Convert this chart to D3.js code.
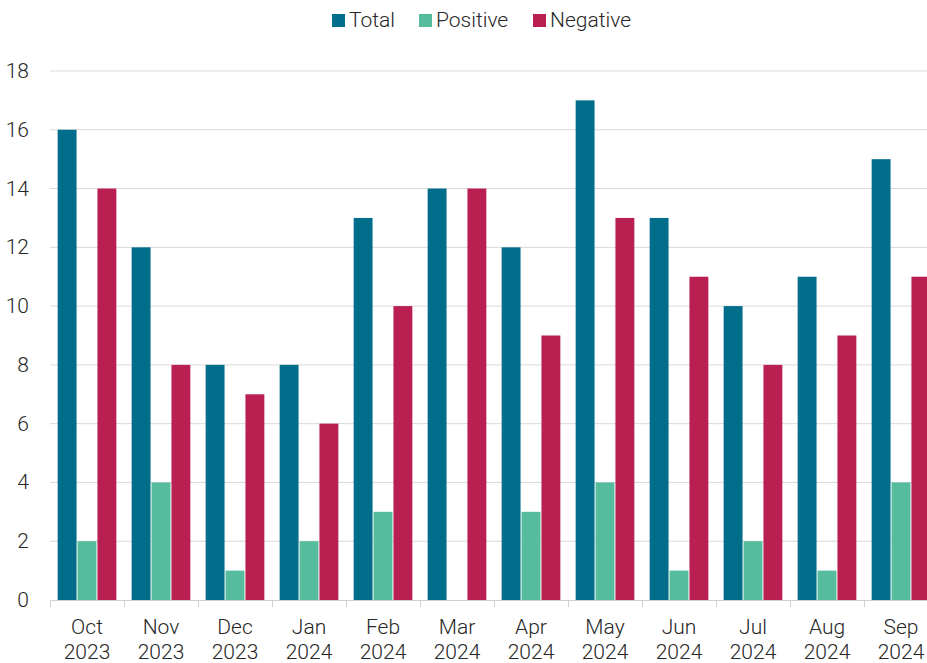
<!DOCTYPE html>
<html>
<head>
<meta charset="utf-8">
<script src="https://cdn.jsdelivr.net/npm/d3@7"></script>
<style>
  body { margin: 0; background: #fff; }
  svg { display: block; font-family: Roboto, "Noto Sans", sans-serif; font-weight: 300; }
</style>
</head>
<body>
<svg id="chart" width="927" height="663"></svg>
<script>
const months = ['Oct', 'Nov', 'Dec', 'Jan', 'Feb', 'Mar', 'Apr', 'May', 'Jun', 'Jul', 'Aug', 'Sep'];
const years = ['2023', '2023', '2023', '2024', '2024', '2024', '2024', '2024', '2024', '2024', '2024', '2024'];
const seriesNames = ['Total', 'Positive', 'Negative'];
const total = [16, 12, 8, 8, 13, 14, 12, 17, 13, 10, 11, 15];
const positive = [2, 4, 1, 2, 3, 0, 3, 4, 1, 2, 1, 4];
const negative = [14, 8, 7, 6, 10, 14, 9, 13, 11, 8, 9, 11];
const yTicks = [0, 2, 4, 6, 8, 10, 12, 14, 16, 18];

const colors = ['#006e8a', '#55bc9e', '#b91f51'];
const values = [total, positive, negative];

const svg = d3.select('#chart');

const x = d3.scaleBand().domain(d3.range(months.length)).range([50, 938]).paddingInner(0).paddingOuter(0);
const xs = d3.scaleBand().domain(seriesNames).range([0, x.bandwidth()]).paddingOuter(0.36).paddingInner(0);
const y = d3.scaleLinear().domain([0, 18]).range([600, 71]);

// gridlines
svg.append('g').selectAll('line').data(yTicks.filter(d => d > 0)).enter().append('line')
    .attr('x1', 50).attr('x2', 938)
    .attr('y1', d => y(d)).attr('y2', d => y(d))
    .attr('stroke', '#d9d9d9').attr('stroke-width', 1);

// y labels
svg.append('g').selectAll('text').data(yTicks).enter().append('text')
    .attr('x', 29).attr('y', d => y(d) + 7)
    .attr('text-anchor', 'end')
    .attr('font-size', 21).attr('fill', '#262626')
    .text(d => d);

// bars
const groups = svg.append('g').selectAll('g').data(months).enter().append('g')
    .attr('transform', (d, i) => `translate(${x(i)},0)`);
groups.selectAll('rect').data((d, i) => seriesNames.map((s, k) => ({ s, k, v: values[k][i] })))
    .enter().append('rect')
    .attr('x', d => xs(d.s) + 0.5)
    .attr('width', xs.bandwidth() - 1)
    .attr('y', d => y(d.v))
    .attr('height', d => y(0) - y(d.v))
    .attr('fill', d => colors[d.k]);

// x axis
const axis = svg.append('g');
axis.append('line').attr('x1', 50).attr('x2', 938).attr('y1', 600.5).attr('y2', 600.5)
    .attr('stroke', '#d0d0d0');
axis.selectAll('.tick').data(d3.range(months.length + 1)).enter().append('line')
    .attr('x1', i => x.step() * i + 50.5).attr('x2', i => x.step() * i + 50.5)
    .attr('y1', 600).attr('y2', 607)
    .attr('stroke', '#d0d0d0');
const labels = axis.selectAll('.lbl').data(months).enter().append('text')
    .attr('text-anchor', 'middle')
    .attr('font-size', 21).attr('fill', '#262626');
labels.append('tspan').attr('x', (d, i) => x(i) + x.bandwidth() / 2).attr('y', 634).text(d => d);
labels.append('tspan').attr('x', (d, i) => x(i) + x.bandwidth() / 2).attr('y', 659).text((d, i) => years[i]);

// legend
const legendX = [332, 419, 533];
const legend = svg.append('g').selectAll('g').data(seriesNames).enter().append('g')
    .attr('transform', (d, i) => `translate(${legendX[i]},0)`);
legend.append('rect').attr('x', 0).attr('y', 14).attr('width', 13).attr('height', 13)
    .attr('fill', (d, i) => colors[i]);
legend.append('text').attr('x', 17).attr('y', 27)
    .attr('font-size', 21).attr('fill', '#262626')
    .text(d => d);
</script>
</body>
</html>
